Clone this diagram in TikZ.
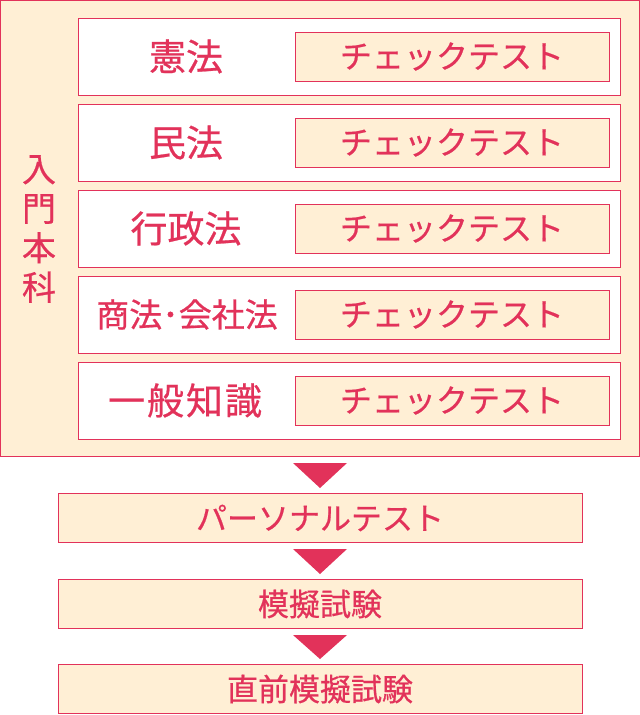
\documentclass[tikz,border=0pt]{standalone}
\usepackage{fontspec}
\newfontfamily\jpfont[FakeBold=0.6]{Noto Sans CJK JP}
\usetikzlibrary{positioning}
\definecolor{accent}{HTML}{E2325A}
\definecolor{cream}{HTML}{FFEFD5}

\begin{document}
\begin{tikzpicture}[
		x=1pt, y=-1pt,
		line width=1pt,
		every node/.style={text=accent, font=\jpfont, inner sep=0pt},
		course/.style={draw=accent, fill=cream, minimum width=639pt, minimum height=456pt},
		subject/.style={draw=accent, fill=white, minimum width=542pt, minimum height=77pt},
		subjectlabel/.style={font=\jpfont\fontsize{37}{37}\selectfont},
		checkbox/.style={draw=accent, fill=cream, minimum width=314pt, minimum height=49pt, font=\jpfont\fontsize{32}{32}\selectfont},
		stepbox/.style={draw=accent, fill=cream, minimum width=524pt, minimum height=49pt, font=\jpfont\fontsize{31}{31}\selectfont},
		marker/.style={fill=accent, draw=none},
	]
		\useasboundingbox (0,0) rectangle (640,715);

		\node (course) [course] at (320,228.5) {};
		\node (title) at (39,229) [align=center, font=\jpfont\fontsize{34}{39.5}\selectfont] {入\\門\\本\\科};

		\node (kenpo)  [subject] at (349.5,56.5) {};
		\node (minpo)  [subject, below=8pt of kenpo] {};
		\node (gyosei) [subject, below=8pt of minpo] {};
		\node (shoho)  [subject, below=8pt of gyosei] {};
		\node (ippan)  [subject, below=8pt of shoho] {};

		\node at (kenpo.center-|186,0)  [subjectlabel] {憲法};
		\node at (minpo.center-|186,0)  [subjectlabel] {民法};
		\node at (gyosei.center-|186,0) [subjectlabel] {行政法};
		\node at (shoho.center-|187,0)  [subjectlabel, font=\jpfont\fontsize{33}{33}\selectfont] {商法･会社法};
		\node at (ippan.center-|185,0)  [subjectlabel] {一\hspace{2pt}般\hspace{2pt}知\hspace{2pt}識};

		\foreach \row in {kenpo,minpo,gyosei,shoho,ippan}
			\node (check-\row) [checkbox] at (\row.center-|452,0) {チェックテスト};

		\node (personal) [stepbox, below=36pt of course] {パーソナルテスト};
		\node (mock)     [stepbox, below=36pt of personal] {模擬試験};
		\node (final)    [stepbox, below=35pt of mock] {直前模擬試験};

		% arrows between the stages
		\foreach \from/\to in {course/personal,personal/mock,mock/final}
			\fill[marker] ([xshift=-27pt, yshift=-6pt]\from.south) -- ([xshift=27pt, yshift=-6pt]\from.south) -- ([yshift=5pt]\to.north) -- cycle;
	\end{tikzpicture}
\end{document}
